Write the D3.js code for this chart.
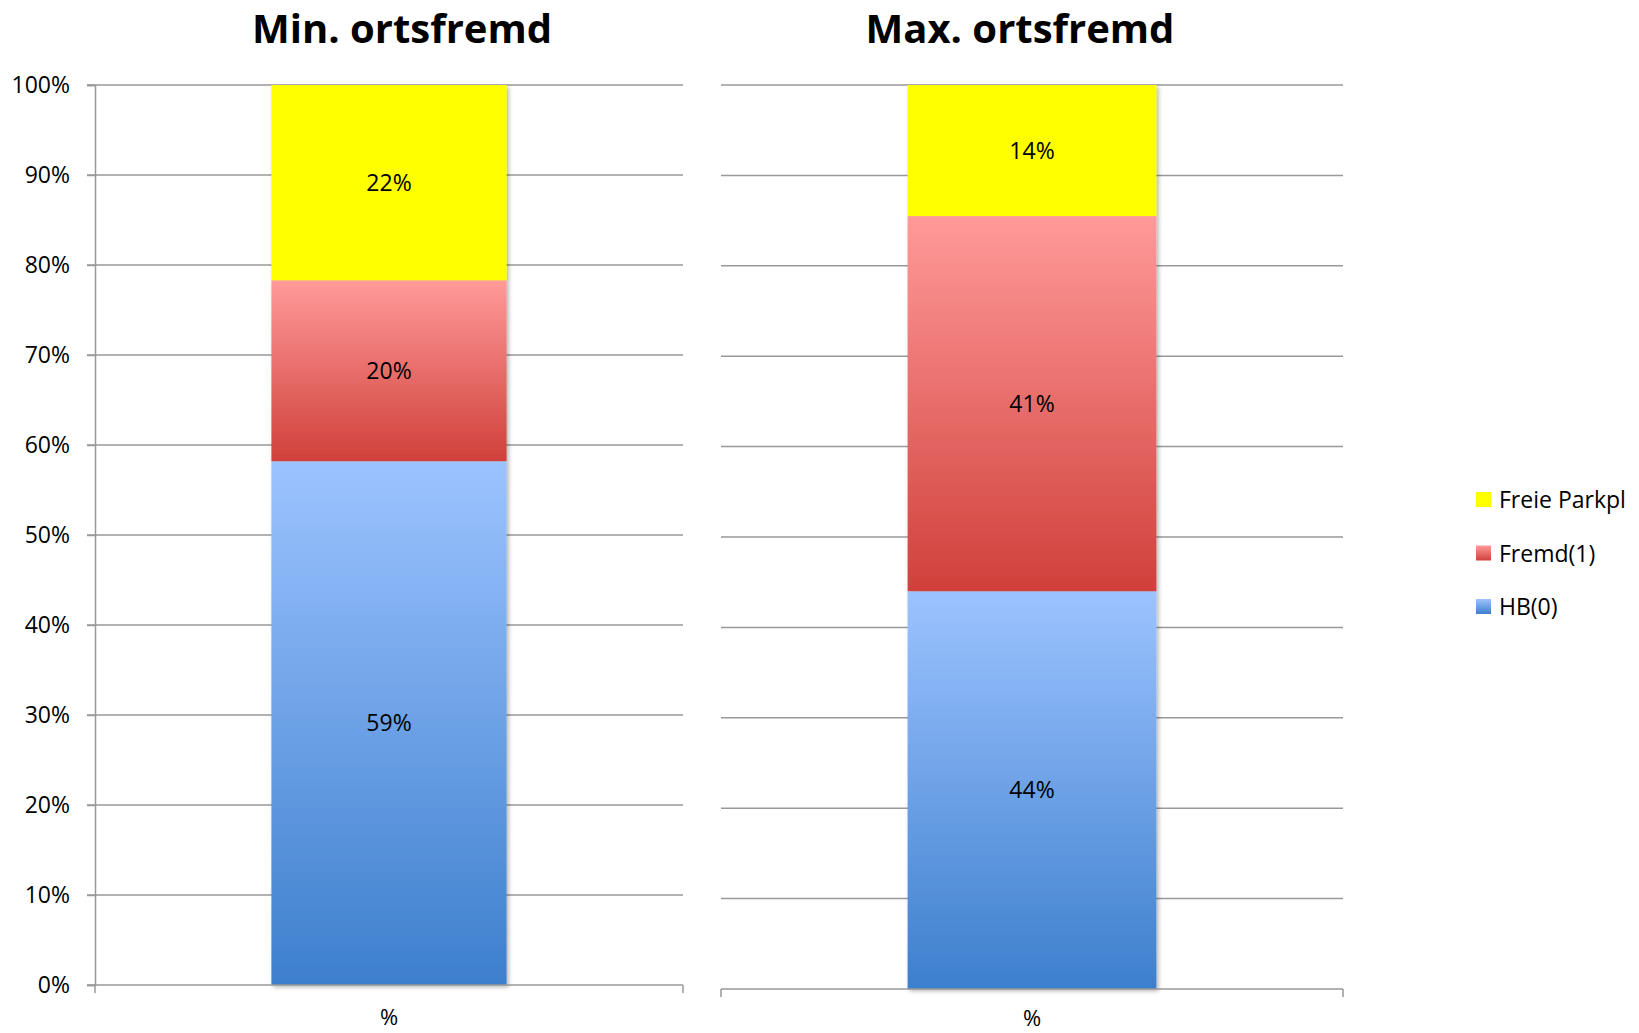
<!DOCTYPE html>
<html>
<head>
<meta charset="utf-8">
<script src="https://cdn.jsdelivr.net/npm/d3@7"></script>
<style>
  body { margin: 0; background: #fff; }
  svg { display: block; font-family: "Open Sans", sans-serif; }
</style>
</head>
<body>
<svg width="1639" height="1033"></svg>
<script>
// data
var categories = ["%"];
var seriesNames = ["HB(0)", "Fremd(1)", "Freie Parkpl"];
var minValues = [0.582, 0.201, 0.217];
var maxValues = [0.440, 0.415, 0.145];
var minLabels = ["59%", "20%", "22%"];
var maxLabels = ["44%", "41%", "14%"];
var titles = ["Min. ortsfremd", "Max. ortsfremd"];
var yTicks = [0, 0.1, 0.2, 0.3, 0.4, 0.5, 0.6, 0.7, 0.8, 0.9, 1];

function main() {
    var svg = d3.select("svg");
    var defs = svg.append("defs");

    // gradients like excel
    var grads = [
        {id: "gBlue", top: "#9cc3ff", bottom: "#3d7fcd"},
        {id: "gRed", top: "#ff9a99", bottom: "#d0403b"}
    ];
    grads.forEach(function(g) {
        var lg = defs.append("linearGradient").attr("id", g.id)
            .attr("x1", 0).attr("y1", 0).attr("x2", 0).attr("y2", 1);
        lg.append("stop").attr("offset", "0%").attr("stop-color", g.top);
        lg.append("stop").attr("offset", "100%").attr("stop-color", g.bottom);
    });
    var fills = ["url(#gBlue)", "url(#gRed)", "#ffff00"];

    var shadow = defs.append("filter").attr("id", "shadow")
        .attr("x", "-10%").attr("y", "-10%").attr("width", "130%").attr("height", "130%");
    shadow.append("feDropShadow").attr("dx", 2).attr("dy", 2)
        .attr("stdDeviation", 2).attr("flood-color", "#000").attr("flood-opacity", 0.3);

    var panels = [
        {values: minValues, labels: minLabels, title: titles[0], x0: 95, x1: 683, top: 85, bottom: 985, titleX: 402, axis: true},
        {values: maxValues, labels: maxLabels, title: titles[1], x0: 721, x1: 1343, top: 85, bottom: 989, titleX: 1020, axis: false}
    ];

    panels.forEach(function(p) {
        var g = svg.append("g");
        var x = d3.scaleBand().domain(categories).range([p.x0, p.x1])
            .paddingInner(0).paddingOuter(0.75);
        var y = d3.scaleLinear().domain([0, 1]).range([p.bottom, p.top]);

        // gridlines
        g.selectAll(".grid").data(yTicks.slice(1)).enter().append("line")
            .attr("x1", p.axis ? p.x0 - 8 : p.x0)
            .attr("x2", p.x1)
            .attr("y1", function(d){ return y(d); })
            .attr("y2", function(d){ return y(d); })
            .attr("stroke", "#999").attr("stroke-width", 1.5);

        // stacked bar
        var stack = [];
        var acc = 0;
        p.values.forEach(function(v, i) {
            stack.push({y0: acc, y1: acc + v, i: i, label: p.labels[i]});
            acc += v;
        });
        var bars = g.append("g").attr("filter", "url(#shadow)");
        bars.selectAll("rect").data(stack).enter().append("rect")
            .attr("x", x("%"))
            .attr("width", x.bandwidth())
            .attr("y", function(d){ return y(d.y1); })
            .attr("height", function(d){ return y(d.y0) - y(d.y1); })
            .attr("fill", function(d){ return fills[d.i]; });

        g.selectAll(".lbl").data(stack).enter().append("text")
            .attr("x", x("%") + x.bandwidth() / 2)
            .attr("y", function(d){ return (y(d.y0) + y(d.y1)) / 2 + 8; })
            .attr("text-anchor", "middle")
            .attr("font-size", "23px")
            .attr("fill", "#000")
            .text(function(d){ return d.label; });

        // baseline + end ticks
        g.append("line").attr("x1", p.axis ? p.x0 - 8 : p.x0).attr("x2", p.x1)
            .attr("y1", p.bottom).attr("y2", p.bottom)
            .attr("stroke", "#999").attr("stroke-width", 1.5);
        [p.x0, p.x1].forEach(function(xx) {
            g.append("line").attr("x1", xx).attr("x2", xx)
                .attr("y1", p.bottom).attr("y2", p.bottom + 8)
                .attr("stroke", "#999").attr("stroke-width", 1.5);
        });

        if (p.axis) {
            var ax = g.append("g").attr("transform", "translate(" + p.x0 + ",0)")
                .call(d3.axisLeft(y).tickValues(yTicks).tickFormat(d3.format(".0%"))
                    .tickSize(8).tickPadding(17));
            ax.select(".domain").attr("stroke", "#999").attr("stroke-width", 1.5);
            ax.selectAll(".tick line").attr("stroke", "#999").attr("stroke-width", 1.5);
            ax.selectAll("text").attr("font-size", "23px").attr("fill", "#000")
                .attr("font-family", "Open Sans");
        }

        // category label
        g.append("text")
            .attr("x", x("%") + x.bandwidth() / 2)
            .attr("y", p.axis ? 1025 : 1026)
            .attr("text-anchor", "middle")
            .attr("font-size", "22px")
            .text(categories[0]);

        // title
        svg.append("text")
            .attr("x", p.titleX).attr("y", 43)
            .attr("text-anchor", "middle")
            .attr("font-size", "40px")
            .attr("font-weight", "bold")
            .text(p.title);
    });

    // legend
    var legendOrder = [2, 1, 0];
    var lg = svg.append("g");
    legendOrder.forEach(function(idx, k) {
        var yy = 492 + k * 53.5;
        lg.append("rect").attr("x", 1476).attr("y", yy)
            .attr("width", 15).attr("height", 15).attr("fill", fills[idx]);
        lg.append("text").attr("x", 1499).attr("y", yy + 16)
            .attr("font-size", "23px").text(seriesNames[idx]);
    });
}

main();
</script>
</body>
</html>
